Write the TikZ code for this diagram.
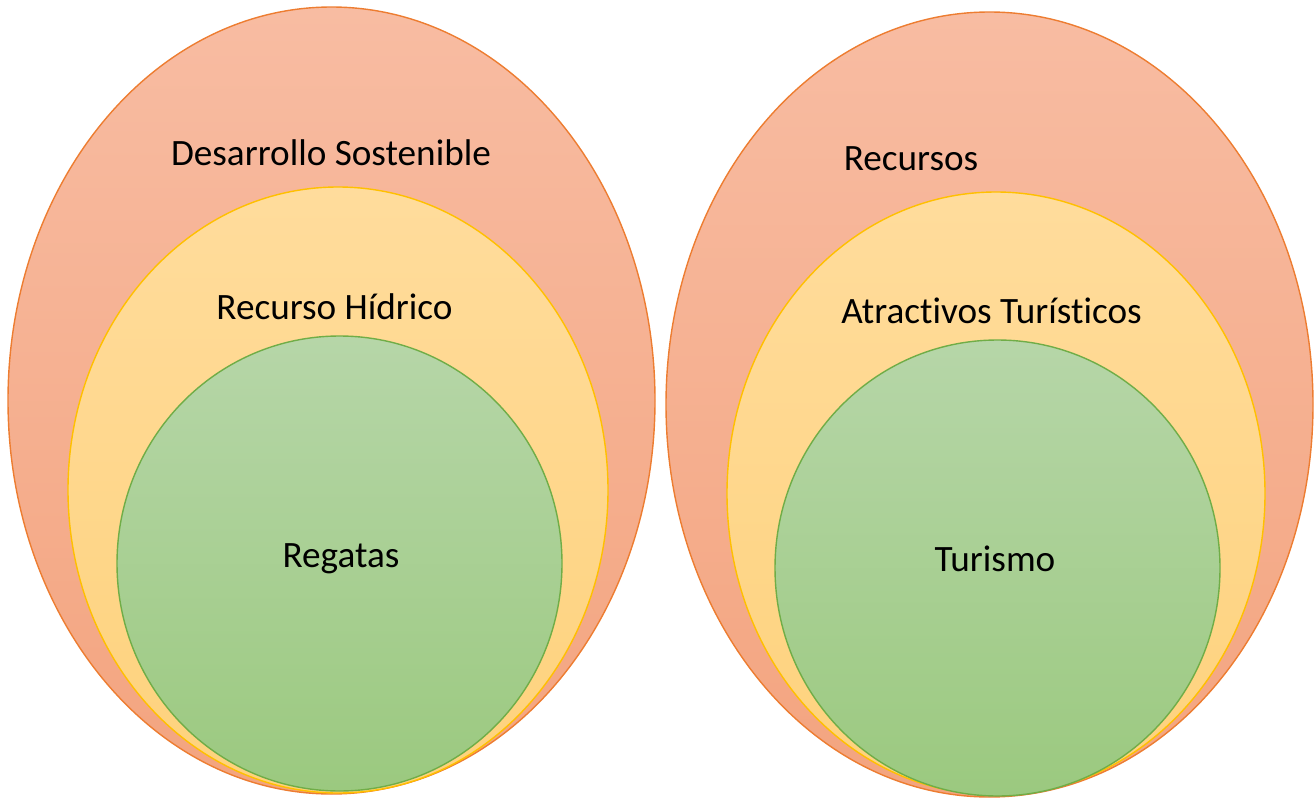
\documentclass[tikz,border=0pt]{standalone}
\usepackage{fontspec}
\setmainfont{Carlito}[Ligatures={NoCommon}]
\usetikzlibrary{shapes.geometric}
\definecolor{ringred}{HTML}{ED7D31}
\definecolor{ringgold}{HTML}{FFC000}
\definecolor{ringgreen}{HTML}{70AD47}
\definecolor{redtop}{HTML}{F8BCA2}
\definecolor{redbot}{HTML}{F3A47F}
\definecolor{goldtop}{HTML}{FFDC9C}
\definecolor{goldbot}{HTML}{FED27C}
\definecolor{greentop}{HTML}{B6D6A8}
\definecolor{greenbot}{HTML}{9BC97F}
\begin{document}
\begin{tikzpicture}[x=1pt, y=-1pt,
    outerring/.style={ellipse, draw=ringred, line width=1.4pt, top color=redtop, bottom color=redbot},
    middlering/.style={ellipse, draw=ringgold, line width=1.4pt, top color=goldtop, bottom color=goldbot},
    innerring/.style={ellipse, draw=ringgreen, line width=1.4pt, top color=greentop, bottom color=greenbot},
    ringtext/.style={font=\fontsize{37.2}{44}\selectfont, anchor=base}]
    \useasboundingbox (0,0) rectangle (1315,800);
    % Left set
    \node (sostenible) [outerring, minimum width=647pt, minimum height=787pt] at (331.5,400.5) {};
    \node (hidrico)    [middlering, minimum width=540pt, minimum height=606pt] at (338,490) {};
    \node (regatas)    [innerring, minimum width=445pt, minimum height=455pt] at (339.5,563.5) {};
    % Right set
    \node (recursos)   [outerring, minimum width=647pt, minimum height=785pt] at (989.5,404.5) {};
    \node (atractivos) [middlering, minimum width=538pt, minimum height=603pt] at (996,493.5) {};
    \node (turismo)    [innerring, minimum width=445pt, minimum height=456pt] at (997.5,568) {};
    % Labels
    \node (sostenibletxt) [ringtext] at (331,165) {Desarrollo Sostenible};
    \node (hidricotxt)    [ringtext] at (334.5,319) {Recurso Hídrico};
    \node (regatastxt)    [ringtext] at (341,567) {Regatas};
    \node (recursostxt)   [ringtext] at (911,170) {Recursos};
    \node (atractivostxt) [ringtext] at (991.5,323) {Atractivos Turísticos};
    \node (turismotxt)    [ringtext] at (995,571) {Turismo};
\end{tikzpicture}
\end{document}
